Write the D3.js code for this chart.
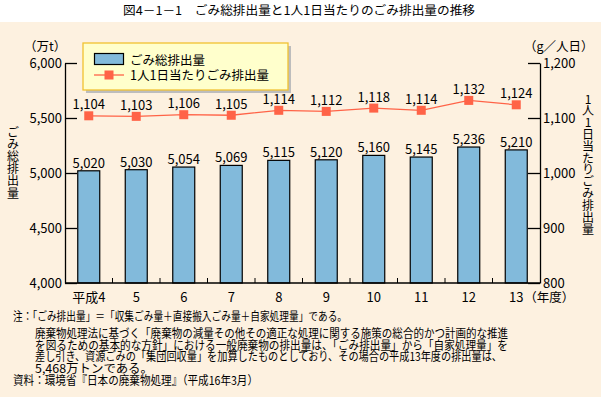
<!DOCTYPE html>
<html>
<head>
<meta charset="utf-8">
<script src="https://cdn.jsdelivr.net/npm/d3@7"></script>
<style>
  html, body { margin: 0; padding: 0; background: #fff; }
  svg { display: block; font-family: "Noto Sans CJK JP", sans-serif; }
</style>
</head>
<body>
<div id="chart"></div>
<script>
// chart data
const years = ["平成4", "5", "6", "7", "8", "9", "10", "11", "12", "13"];
const totalWaste = [5020, 5030, 5054, 5069, 5115, 5120, 5160, 5145, 5236, 5210]; // 万t
const perCapita = [1104, 1103, 1106, 1105, 1114, 1112, 1118, 1114, 1132, 1124]; // g/人日
const leftTicks = [4000, 4500, 5000, 5500, 6000];
const rightTicks = [800, 900, 1000, 1100, 1200];
const seriesNames = ["ごみ総排出量", "1人1日当たりごみ排出量"];
const titleText = "図4－1－1　ごみ総排出量と1人1日当たりのごみ排出量の推移";
const noteLines = [
  "注：「ごみ排出量」＝「収集ごみ量＋直接搬入ごみ量＋自家処理量」である。",
  "廃棄物処理法に基づく「廃棄物の減量その他その適正な処理に関する施策の総合的かつ計画的な推進",
  "を図るための基本的な方針」における一般廃棄物の排出量は、「ごみ排出量」から「自家処理量」を",
  "差し引き、資源ごみの「集団回収量」を加算したものとしており、その場合の平成13年度の排出量は、",
  "5,468万トンである。",
  "資料：環境省『日本の廃棄物処理』（平成16年3月）"
];

const W = 601, H = 397;
const plot = { left: 65, right: 540, top: 63, bottom: 283 };
const colors = { bg: "#fdf1e0", bar: "#82badb", line: "#ff6347", legendBg: "#ffffcc", legendBorder: "#f2c232" };
const fmt = d3.format(",");

const svg = d3.select("#chart").append("svg")
  .attr("width", W).attr("height", H);

// background panel below the title strip
svg.append("rect").attr("x", 0).attr("y", 22).attr("width", W).attr("height", H - 22)
  .attr("fill", colors.bg);

svg.append("text")
  .attr("x", 123).attr("y", 15)
  .attr("textLength", 352).attr("lengthAdjust", "spacingAndGlyphs")
  .style("font-size", "12px").attr("fill", "#000")
  .text(titleText);

// scales
const x = d3.scaleBand().domain(years).range([plot.left, plot.right])
  .paddingInner(0.537).paddingOuter(0.2685);
const yL = d3.scaleLinear().domain([4000, 6000]).range([plot.bottom, plot.top]);
const yR = d3.scaleLinear().domain([800, 1200]).range([plot.bottom, plot.top]);

const rows = years.map((y, i) => ({ year: y, total: totalWaste[i], pc: perCapita[i] }));

// bars
svg.append("g").selectAll("rect").data(rows).join("rect")
  .attr("x", d => x(d.year))
  .attr("y", d => yL(d.total))
  .attr("width", x.bandwidth())
  .attr("height", d => plot.bottom - yL(d.total))
  .attr("fill", colors.bar)
  .attr("stroke", "#000").attr("stroke-width", 1.2);

svg.append("g").selectAll("text").data(rows).join("text")
  .attr("x", d => x(d.year) + x.bandwidth() / 2)
  .attr("y", d => yL(d.total) - 3)
  .attr("text-anchor", "middle")
  .style("font-size", "13px")
  .text(d => fmt(d.total));

// left axis
const axL = svg.append("g").attr("transform", `translate(${plot.left},0)`)
  .call(d3.axisLeft(yL).tickValues(leftTicks).tickFormat(fmt).tickSizeInner(-12).tickSizeOuter(0).tickPadding(3));
// right axis
const axR = svg.append("g").attr("transform", `translate(${plot.right},0)`)
  .call(d3.axisRight(yR).tickValues(rightTicks).tickFormat(fmt).tickSizeInner(-12).tickSizeOuter(0).tickPadding(3));
[axL, axR].forEach(ax => {
  ax.selectAll("path, line").attr("stroke", "#000").attr("stroke-width", 1.3);
  ax.selectAll("text").style("font-size", "13px").attr("fill", "#000")
    .style("font-family", "\"Noto Sans CJK JP\", sans-serif");
});

// x axis line with small boundary ticks
svg.append("line")
  .attr("x1", plot.left).attr("x2", plot.right)
  .attr("y1", plot.bottom).attr("y2", plot.bottom)
  .attr("stroke", "#000").attr("stroke-width", 1.3);
const gap = x.step() - x.bandwidth();
svg.append("g").selectAll("line").data(years.slice(1)).join("line")
  .attr("x1", d => x(d) - gap / 2).attr("x2", d => x(d) - gap / 2)
  .attr("y1", plot.bottom).attr("y2", plot.bottom - 5)
  .attr("stroke", "#000").attr("stroke-width", 1);

svg.append("g").selectAll("text").data(years).join("text")
  .attr("x", d => x(d) + x.bandwidth() / 2)
  .attr("y", 302)
  .attr("text-anchor", "middle")
  .style("font-size", "13px")
  .text(d => d);
svg.append("text")
  .attr("x", x("13") + x.bandwidth() / 2 + 8).attr("y", 302)
  .style("font-size", "12.5px")
  .text("（年度）");

// line series
const cx = d => x(d.year) + x.bandwidth() / 2;
svg.append("path").datum(rows)
  .attr("fill", "none").attr("stroke", colors.line).attr("stroke-width", 1.3)
  .attr("d", d3.line().x(cx).y(d => yR(d.pc)));
svg.append("g").selectAll("rect").data(rows).join("rect")
  .attr("x", d => cx(d) - 4.5).attr("y", d => yR(d.pc) - 4.5)
  .attr("width", 9).attr("height", 9)
  .attr("fill", colors.line);
svg.append("g").selectAll("text").data(rows).join("text")
  .attr("x", cx).attr("y", d => yR(d.pc) - 6.5)
  .attr("text-anchor", "middle")
  .style("font-size", "13px")
  .text(d => fmt(d.pc));

// unit labels
svg.append("text").attr("x", 24).attr("y", 51).style("font-size", "12.5px").text("（万t）");
svg.append("text").attr("x", 524).attr("y", 51).style("font-size", "12.5px").text("（g／人日）");

// vertical axis titles (upright vertical writing)
svg.append("text")
  .attr("x", 13).attr("y", 126)
  .style("writing-mode", "vertical-rl").style("text-orientation", "upright")
  .style("font-size", "12px").style("letter-spacing", "0.2px")
  .text("ごみ総排出量");
svg.append("text")
  .attr("x", 588).attr("y", 93)
  .style("writing-mode", "vertical-rl").style("text-orientation", "upright")
  .style("font-size", "12px")
  .attr("textLength", 142).attr("lengthAdjust", "spacing")
  .text("1人1日当たりごみ排出量");

// legend
const lg = svg.append("g");
lg.append("rect").attr("x", 86).attr("y", 46).attr("width", 205).attr("height", 47).attr("fill", "#bdbdbd");
lg.append("rect").attr("x", 83).attr("y", 43).attr("width", 205).attr("height", 47)
  .attr("fill", colors.legendBg).attr("stroke", colors.legendBorder).attr("stroke-width", 1.3);
lg.append("rect").attr("x", 94.5).attr("y", 53.5).attr("width", 29).attr("height", 11)
  .attr("fill", colors.bar).attr("stroke", "#000").attr("stroke-width", 1.2);
lg.append("line").attr("x1", 94).attr("x2", 124).attr("y1", 75).attr("y2", 75)
  .attr("stroke", colors.line).attr("stroke-width", 1.3);
lg.append("rect").attr("x", 104.5).attr("y", 70.5).attr("width", 9).attr("height", 9).attr("fill", colors.line);
lg.selectAll("text.lab").data(seriesNames).join("text")
  .attr("x", 130).attr("y", (d, i) => 64.5 + i * 15)
  .style("font-size", "12.5px").text(d => d);

// notes: one text block, one tspan per line
const noteX = [13, 35, 35, 35, 35, 13];
const noteY = [320.5, 337.5, 349.5, 360.5, 372.5, 384.5];
const noteW = [334, 473, 473, 467, 118, 245];
svg.append("text")
  .style("font-size", "12px")
  .selectAll("tspan").data(noteLines).join("tspan")
  .attr("x", (d, i) => noteX[i]).attr("y", (d, i) => noteY[i])
  .attr("textLength", (d, i) => noteW[i]).attr("lengthAdjust", "spacingAndGlyphs")
  .text(d => d);
</script>
</body>
</html>
